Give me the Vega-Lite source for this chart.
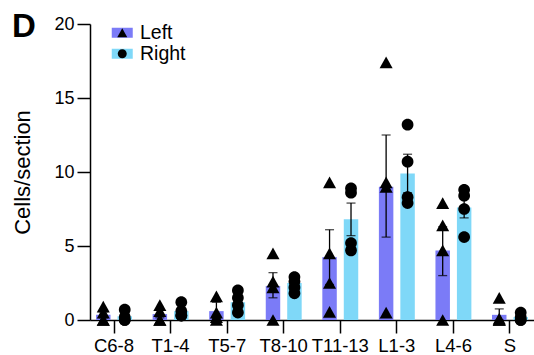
{
  "$schema": "https://vega.github.io/schema/vega-lite/v6.json",
  "autosize": {"type": "none"},
  "padding": {"left": 90, "top": 24, "right": 0, "bottom": 35},
  "width": 444,
  "height": 296,
  "title": {"text": "D", "anchor": "start", "frame": "bounds", "fontSize": 33, "fontWeight": "bold", "baseline": "top", "offset": -29, "color": "black"},
  "datasets": {
    "bars": [
      {"region": "C6-8", "side": "Left", "mean": 0.35, "lo": 0.15, "hi": 0.55},
      {"region": "C6-8", "side": "Right", "mean": 0.25, "lo": 0.08, "hi": 0.42},
      {"region": "T1-4", "side": "Left", "mean": 0.4, "lo": 0.15, "hi": 0.65},
      {"region": "T1-4", "side": "Right", "mean": 0.6, "lo": 0.4, "hi": 0.8},
      {"region": "T5-7", "side": "Left", "mean": 0.6, "lo": 0.1, "hi": 1.2},
      {"region": "T5-7", "side": "Right", "mean": 1.2, "lo": 0.8, "hi": 1.6},
      {"region": "T8-10", "side": "Left", "mean": 2.3, "lo": 1.5, "hi": 3.2},
      {"region": "T8-10", "side": "Right", "mean": 2.5, "lo": 2.25, "hi": 2.75},
      {"region": "T11-13", "side": "Left", "mean": 4.25, "lo": 2.4, "hi": 6.1},
      {"region": "T11-13", "side": "Right", "mean": 6.8, "lo": 5.7, "hi": 7.9},
      {"region": "L1-3", "side": "Left", "mean": 9.0, "lo": 5.6, "hi": 12.5},
      {"region": "L1-3", "side": "Right", "mean": 9.9, "lo": 8.6, "hi": 11.2},
      {"region": "L4-6", "side": "Left", "mean": 4.7, "lo": 3.0, "hi": 6.3},
      {"region": "L4-6", "side": "Right", "mean": 7.6, "lo": 6.9, "hi": 8.3},
      {"region": "S", "side": "Left", "mean": 0.35, "lo": 0.0, "hi": 0.75},
      {"region": "S", "side": "Right", "mean": 0.2, "lo": 0.05, "hi": 0.35}
    ],
    "points": [
      {"region": "C6-8", "side": "Left", "value": 0.9},
      {"region": "C6-8", "side": "Left", "value": 0.5},
      {"region": "C6-8", "side": "Left", "value": 0.0},
      {"region": "C6-8", "side": "Left", "value": 0.0},
      {"region": "C6-8", "side": "Right", "value": 0.7},
      {"region": "C6-8", "side": "Right", "value": 0.2},
      {"region": "C6-8", "side": "Right", "value": 0.0},
      {"region": "C6-8", "side": "Right", "value": 0.0},
      {"region": "T1-4", "side": "Left", "value": 1.0},
      {"region": "T1-4", "side": "Left", "value": 0.6},
      {"region": "T1-4", "side": "Left", "value": 0.0},
      {"region": "T1-4", "side": "Left", "value": 0.0},
      {"region": "T1-4", "side": "Right", "value": 1.2},
      {"region": "T1-4", "side": "Right", "value": 0.6},
      {"region": "T1-4", "side": "Right", "value": 0.3},
      {"region": "T1-4", "side": "Right", "value": 0.3},
      {"region": "T5-7", "side": "Left", "value": 1.6},
      {"region": "T5-7", "side": "Left", "value": 0.5},
      {"region": "T5-7", "side": "Left", "value": 0.2},
      {"region": "T5-7", "side": "Left", "value": 0.0},
      {"region": "T5-7", "side": "Right", "value": 2.0},
      {"region": "T5-7", "side": "Right", "value": 1.5},
      {"region": "T5-7", "side": "Right", "value": 1.0},
      {"region": "T5-7", "side": "Right", "value": 0.5},
      {"region": "T8-10", "side": "Left", "value": 4.5},
      {"region": "T8-10", "side": "Left", "value": 2.6},
      {"region": "T8-10", "side": "Left", "value": 2.2},
      {"region": "T8-10", "side": "Left", "value": 0.0},
      {"region": "T8-10", "side": "Right", "value": 2.9},
      {"region": "T8-10", "side": "Right", "value": 2.6},
      {"region": "T8-10", "side": "Right", "value": 2.2},
      {"region": "T8-10", "side": "Right", "value": 1.8},
      {"region": "T11-13", "side": "Left", "value": 9.3},
      {"region": "T11-13", "side": "Left", "value": 4.5},
      {"region": "T11-13", "side": "Left", "value": 2.5},
      {"region": "T11-13", "side": "Left", "value": 0.55},
      {"region": "T11-13", "side": "Right", "value": 8.9},
      {"region": "T11-13", "side": "Right", "value": 8.6},
      {"region": "T11-13", "side": "Right", "value": 5.2},
      {"region": "T11-13", "side": "Right", "value": 4.7},
      {"region": "L1-3", "side": "Left", "value": 17.4},
      {"region": "L1-3", "side": "Left", "value": 9.3},
      {"region": "L1-3", "side": "Left", "value": 9.0},
      {"region": "L1-3", "side": "Left", "value": 0.5},
      {"region": "L1-3", "side": "Right", "value": 13.2},
      {"region": "L1-3", "side": "Right", "value": 10.7},
      {"region": "L1-3", "side": "Right", "value": 8.3},
      {"region": "L1-3", "side": "Right", "value": 7.9},
      {"region": "L4-6", "side": "Left", "value": 7.9},
      {"region": "L4-6", "side": "Left", "value": 6.4},
      {"region": "L4-6", "side": "Left", "value": 4.7},
      {"region": "L4-6", "side": "Left", "value": 0.0},
      {"region": "L4-6", "side": "Right", "value": 8.8},
      {"region": "L4-6", "side": "Right", "value": 8.4},
      {"region": "L4-6", "side": "Right", "value": 7.5},
      {"region": "L4-6", "side": "Right", "value": 5.6},
      {"region": "S", "side": "Left", "value": 1.5},
      {"region": "S", "side": "Left", "value": 0.1},
      {"region": "S", "side": "Left", "value": 0.0},
      {"region": "S", "side": "Left", "value": 0.0},
      {"region": "S", "side": "Right", "value": 0.5},
      {"region": "S", "side": "Right", "value": 0.2},
      {"region": "S", "side": "Right", "value": 0.0},
      {"region": "S", "side": "Right", "value": 0.0}
    ]
  },
  "encoding": {
    "x": {
      "field": "region", "type": "nominal",
      "sort": ["C6-8", "T1-4", "T5-7", "T8-10", "T11-13", "L1-3", "L4-6", "S"],
      "scale": {"paddingInner": 0.365, "paddingOuter": 0.107},
      "axis": {"title": null, "labelAngle": 0, "labelPadding": 3, "labelFontSize": 18.5}
    },
    "xOffset": {
      "field": "side", "type": "nominal",
      "sort": ["Left", "Right"],
      "scale": {"paddingInner": 0.326, "paddingOuter": 0}
    }
  },
  "layer": [
    {
      "data": {"name": "bars"},
      "mark": {"type": "bar"},
      "encoding": {
        "y": {
          "field": "mean", "type": "quantitative",
          "scale": {"domain": [0, 20], "nice": false},
          "axis": {"title": "Cells/section", "values": [0, 5, 10, 15, 20], "labelPadding": 3, "titlePadding": 19, "labelFontSize": 18, "titleFontSize": 22}
        },
        "fill": {
          "field": "side", "type": "nominal",
          "scale": {"domain": ["Left", "Right"], "range": ["#7B7BF7", "#7FD8F8"]},
          "legend": {
            "orient": "none", "legendX": 22.5, "legendY": -1, "title": null, "padding": 0,
            "symbolType": "M-2.1,-1H2.1V1H-2.1Z", "symbolSize": 100, "symbolStrokeWidth": 0, "symbolOpacity": 1,
            "labelFontSize": 19.5, "labelOffset": 8, "rowPadding": 0, "labelOpacity": 0, "zindex": 1
          }
        }
      }
    },
    {
      "data": {"name": "bars"},
      "mark": {"type": "rule", "color": "black", "strokeWidth": 1.3},
      "encoding": {
        "y": {"field": "lo", "type": "quantitative"},
        "y2": {"field": "hi"}
      }
    },
    {
      "data": {"name": "bars"},
      "mark": {"type": "tick", "color": "black", "size": 9, "thickness": 1.3, "orient": "horizontal"},
      "encoding": {
        "y": {"field": "lo", "type": "quantitative"}
      }
    },
    {
      "data": {"name": "bars"},
      "mark": {"type": "tick", "color": "black", "size": 9, "thickness": 1.3, "orient": "horizontal"},
      "encoding": {
        "y": {"field": "hi", "type": "quantitative"}
      }
    },
    {
      "data": {"name": "points"},
      "mark": {"type": "point", "filled": true, "color": "black", "opacity": 1, "size": 170, "strokeWidth": 0},
      "encoding": {
        "y": {"field": "value", "type": "quantitative"},
        "shape": {
          "field": "side", "type": "nominal",
          "scale": {"range": ["M0,-0.9L1,0.9L-1,0.9Z", "M0.9,0A0.9,0.9,0,1,1,-0.9,0A0.9,0.9,0,1,1,0.9,0Z"]},
          "legend": {
            "orient": "none", "legendX": 22.5, "legendY": -1, "title": null, "padding": 0,
            "symbolSize": 100, "symbolFillColor": "black", "symbolStrokeWidth": 0, "symbolOpacity": 1,
            "labelFontSize": 19.5, "labelOffset": 8, "rowPadding": 0, "zindex": 2
          }
        }
      }
    }
  ],
  "config": {
    "font": "Liberation Sans",
    "view": {"stroke": null},
    "axis": {
      "domainColor": "black", "tickColor": "black", "labelColor": "black", "titleColor": "black",
      "domainWidth": 1.5, "tickWidth": 1.5, "tickSize": 13, "grid": false,
      "titleFontWeight": "normal"
    },
    "legend": {"labelColor": "black"}
  }
}
